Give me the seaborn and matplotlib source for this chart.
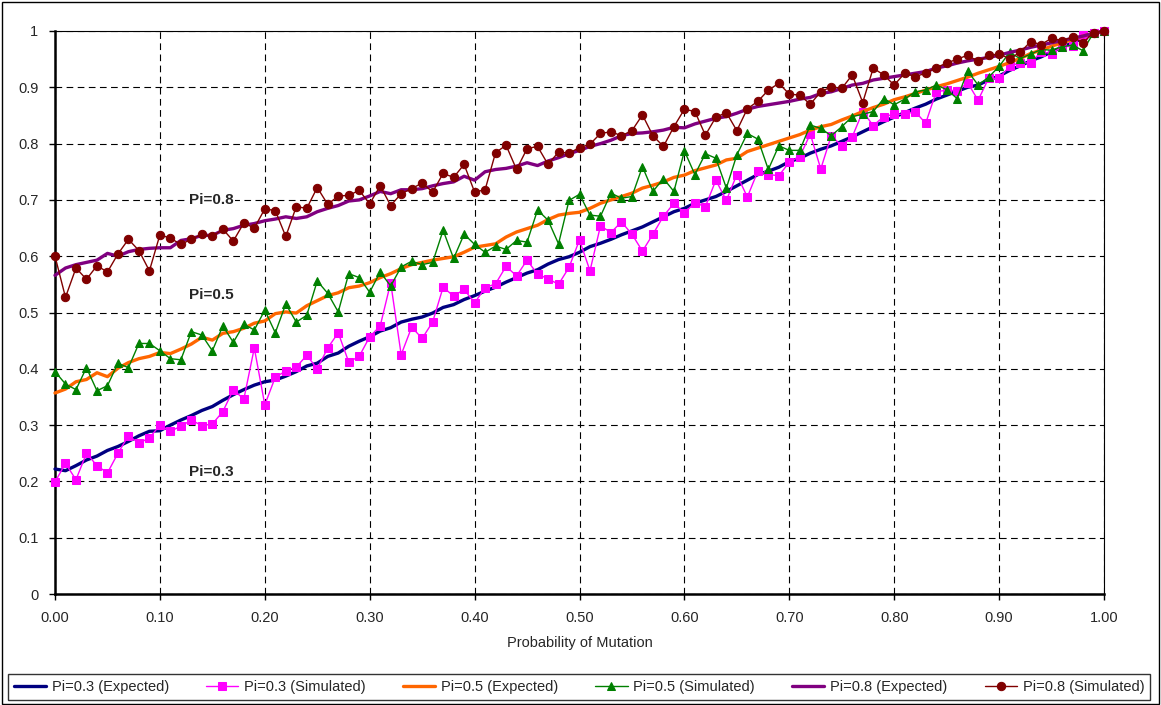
import numpy as np
import matplotlib
matplotlib.use("Agg")
import matplotlib.pyplot as plt
import seaborn as sns
from matplotlib.patches import Rectangle

# x categories: probability of mutation 0.00 .. 1.00
mutation_prob = np.round(np.arange(0, 101) * 0.01, 2)

# values
pi03_expected = [0.222, 0.219, 0.228, 0.238, 0.245, 0.255, 0.262, 0.271, 0.281, 0.289,
                 0.290, 0.300, 0.309, 0.317, 0.326, 0.333, 0.344, 0.354, 0.363, 0.371,
                 0.377, 0.380, 0.387, 0.395, 0.405, 0.410, 0.422, 0.428, 0.440, 0.449,
                 0.457, 0.467, 0.473, 0.483, 0.488, 0.492, 0.499, 0.509, 0.514, 0.523,
                 0.530, 0.538, 0.545, 0.554, 0.562, 0.570, 0.576, 0.586, 0.594, 0.599,
                 0.607, 0.617, 0.623, 0.630, 0.638, 0.645, 0.652, 0.661, 0.670, 0.679,
                 0.685, 0.694, 0.700, 0.706, 0.715, 0.725, 0.735, 0.745, 0.751, 0.758,
                 0.768, 0.774, 0.783, 0.790, 0.796, 0.804, 0.812, 0.821, 0.830, 0.839,
                 0.847, 0.855, 0.863, 0.870, 0.879, 0.886, 0.893, 0.900, 0.904, 0.913,
                 0.920, 0.930, 0.938, 0.947, 0.954, 0.963, 0.971, 0.979, 0.987, 0.995,
                 1.000]
pi03_simulated = [0.199, 0.232, 0.203, 0.250, 0.228, 0.215, 0.250, 0.281, 0.268, 0.277,
                  0.300, 0.289, 0.298, 0.309, 0.299, 0.302, 0.324, 0.363, 0.346, 0.437,
                  0.336, 0.385, 0.396, 0.403, 0.424, 0.400, 0.437, 0.464, 0.412, 0.422,
                  0.457, 0.476, 0.553, 0.425, 0.474, 0.454, 0.483, 0.545, 0.529, 0.541,
                  0.517, 0.544, 0.551, 0.582, 0.565, 0.593, 0.568, 0.560, 0.550, 0.580,
                  0.629, 0.574, 0.654, 0.642, 0.661, 0.639, 0.609, 0.639, 0.671, 0.694,
                  0.677, 0.695, 0.688, 0.735, 0.699, 0.745, 0.705, 0.751, 0.745, 0.743,
                  0.767, 0.777, 0.817, 0.755, 0.814, 0.796, 0.812, 0.857, 0.832, 0.848,
                  0.852, 0.852, 0.857, 0.836, 0.892, 0.895, 0.894, 0.908, 0.877, 0.916,
                  0.916, 0.937, 0.944, 0.943, 0.963, 0.960, 0.972, 0.973, 0.993, 0.997,
                  1.000]
pi05_expected = [0.357, 0.364, 0.377, 0.381, 0.393, 0.386, 0.401, 0.411, 0.418, 0.422,
                 0.429, 0.427, 0.435, 0.444, 0.456, 0.451, 0.463, 0.466, 0.472, 0.481,
                 0.485, 0.498, 0.501, 0.499, 0.512, 0.521, 0.530, 0.535, 0.544, 0.547,
                 0.553, 0.562, 0.569, 0.578, 0.585, 0.589, 0.593, 0.596, 0.599, 0.607,
                 0.616, 0.619, 0.622, 0.634, 0.643, 0.649, 0.655, 0.665, 0.673, 0.676,
                 0.678, 0.685, 0.694, 0.700, 0.706, 0.712, 0.721, 0.726, 0.732, 0.740,
                 0.744, 0.752, 0.757, 0.762, 0.771, 0.774, 0.786, 0.792, 0.798, 0.804,
                 0.810, 0.816, 0.824, 0.830, 0.834, 0.842, 0.849, 0.857, 0.864, 0.870,
                 0.878, 0.883, 0.889, 0.895, 0.901, 0.906, 0.912, 0.918, 0.925, 0.931,
                 0.937, 0.944, 0.951, 0.960, 0.966, 0.973, 0.979, 0.985, 0.991, 0.996,
                 1.000]
pi05_simulated = [0.395, 0.373, 0.363, 0.402, 0.361, 0.370, 0.410, 0.402, 0.445, 0.445,
                  0.432, 0.418, 0.416, 0.466, 0.460, 0.432, 0.476, 0.447, 0.479, 0.469,
                  0.504, 0.464, 0.515, 0.483, 0.495, 0.556, 0.534, 0.501, 0.569, 0.562,
                  0.536, 0.572, 0.547, 0.581, 0.591, 0.585, 0.589, 0.646, 0.596, 0.639,
                  0.621, 0.607, 0.618, 0.612, 0.628, 0.625, 0.682, 0.664, 0.622, 0.699,
                  0.710, 0.673, 0.671, 0.712, 0.703, 0.706, 0.759, 0.715, 0.738, 0.715,
                  0.787, 0.745, 0.782, 0.774, 0.721, 0.780, 0.818, 0.808, 0.754, 0.796,
                  0.788, 0.788, 0.833, 0.827, 0.814, 0.830, 0.848, 0.852, 0.857, 0.880,
                  0.869, 0.879, 0.892, 0.895, 0.904, 0.896, 0.880, 0.929, 0.904, 0.918,
                  0.937, 0.962, 0.951, 0.959, 0.967, 0.966, 0.972, 0.975, 0.965, 0.997,
                  1.000]
pi08_expected = [0.566, 0.579, 0.585, 0.589, 0.593, 0.605, 0.600, 0.608, 0.612, 0.614,
                 0.615, 0.615, 0.628, 0.631, 0.637, 0.637, 0.646, 0.649, 0.655, 0.658,
                 0.663, 0.666, 0.670, 0.667, 0.670, 0.679, 0.685, 0.690, 0.698, 0.700,
                 0.707, 0.715, 0.711, 0.718, 0.718, 0.720, 0.725, 0.729, 0.732, 0.742,
                 0.735, 0.750, 0.754, 0.756, 0.760, 0.766, 0.761, 0.769, 0.775, 0.782,
                 0.788, 0.795, 0.800, 0.806, 0.814, 0.818, 0.819, 0.821, 0.824, 0.829,
                 0.828, 0.835, 0.840, 0.845, 0.848, 0.854, 0.861, 0.866, 0.869, 0.872,
                 0.875, 0.879, 0.882, 0.889, 0.892, 0.898, 0.904, 0.907, 0.913, 0.916,
                 0.919, 0.922, 0.925, 0.928, 0.934, 0.938, 0.943, 0.947, 0.950, 0.953,
                 0.957, 0.962, 0.966, 0.971, 0.975, 0.979, 0.983, 0.987, 0.991, 0.996,
                 1.000]
pi08_simulated = [0.600, 0.527, 0.579, 0.559, 0.583, 0.572, 0.604, 0.630, 0.610, 0.574,
                  0.638, 0.632, 0.621, 0.630, 0.639, 0.635, 0.648, 0.627, 0.659, 0.650,
                  0.684, 0.681, 0.635, 0.688, 0.685, 0.722, 0.692, 0.707, 0.708, 0.717,
                  0.693, 0.725, 0.690, 0.711, 0.720, 0.730, 0.714, 0.747, 0.740, 0.763,
                  0.714, 0.718, 0.784, 0.797, 0.754, 0.791, 0.795, 0.763, 0.785, 0.783,
                  0.793, 0.799, 0.818, 0.821, 0.814, 0.823, 0.851, 0.814, 0.795, 0.830,
                  0.861, 0.857, 0.815, 0.847, 0.855, 0.823, 0.862, 0.875, 0.895, 0.907,
                  0.888, 0.886, 0.870, 0.892, 0.901, 0.898, 0.922, 0.873, 0.934, 0.922,
                  0.904, 0.925, 0.919, 0.925, 0.935, 0.943, 0.950, 0.957, 0.946, 0.957,
                  0.959, 0.951, 0.962, 0.981, 0.976, 0.987, 0.983, 0.989, 0.979, 0.997,
                  1.000]

series_labels = ["Pi=0.3 (Expected)", "Pi=0.3 (Simulated)", "Pi=0.5 (Expected)",
                 "Pi=0.5 (Simulated)", "Pi=0.8 (Expected)", "Pi=0.8 (Simulated)"]
series_values = [pi03_expected, pi03_simulated, pi05_expected,
                 pi05_simulated, pi08_expected, pi08_simulated]

# style per series: colour, marker, line width, marker size
styles = [("#000080", None, 2.4, 0),
          ("#FF00FF", "s", 1.0, 5.8),
          ("#FF6600", None, 2.4, 0),
          ("#008000", "^", 1.0, 6.2),
          ("#800080", None, 2.4, 0),
          ("#800000", "o", 1.0, 6.0)]

sns.set_theme(style="white")
plt.rcParams['font.family'] = ['Liberation Sans', 'DejaVu Sans']

fig = plt.figure(figsize=(11.61, 7.05), dpi=100)
ax = fig.add_axes([55 / 1161, 1 - 594 / 705, 1049 / 1161, 563 / 705])

for label, vals, (col, mk, lw, ms) in zip(series_labels, series_values, styles):
    kw = dict(color=col, lw=lw, label=label, clip_on=False, zorder=3)
    if mk:
        kw.update(marker=mk, markersize=ms, markeredgecolor=col, markerfacecolor=col)
    sns.lineplot(x=mutation_prob, y=vals, ax=ax, **kw)

if ax.get_legend() is not None:
    ax.get_legend().remove()

# annotations next to the curves (white box hides the gridline behind)
for yv, txt in [(0.70, "Pi=0.8"), (0.531, "Pi=0.5"), (0.217, "Pi=0.3")]:
    ax.text(0.128, yv, txt, fontsize=11, fontweight="bold", va="center", zorder=4,
            bbox=dict(facecolor="white", edgecolor="none", pad=1.0))

ax.set_xlim(0, 1)
ax.set_ylim(0, 1)
xt = np.round(np.arange(0, 11) * 0.1, 2)
ax.set_xticks(xt)
ax.set_xticklabels([f"{v:.2f}" for v in xt])
ax.set_yticks(xt)
ax.set_yticklabels(["0" if v == 0 else "1" if v == 1 else f"{v:.1f}" for v in xt])
ax.tick_params(direction="out", length=4, width=1, color="black", labelsize=10.5,
               bottom=True, left=True, pad=8)
ax.set_xlabel("Probability of Mutation", fontsize=10.5, labelpad=8)
ax.set_ylabel("")

ax.grid(True, linestyle=(0, (6, 4)), color="black", lw=0.8)
ax.set_axisbelow(True)
for side in ["left", "bottom"]:
    ax.spines[side].set_color("black")
    ax.spines[side].set_linewidth(1.8)
for side in ["top", "right"]:
    ax.spines[side].set_color("black")
    ax.spines[side].set_linewidth(0.8)

handles, labels = ax.get_legend_handles_labels()
leg = fig.legend(handles, labels, loc="lower left", ncol=6, mode="expand",
                 bbox_to_anchor=(8 / 1161, 5 / 705, 1142 / 1161, 32 / 705),
                 borderaxespad=0, fontsize=10.5, frameon=True, fancybox=False,
                 handlelength=2.2, handletextpad=0.4)
leg.get_frame().set_edgecolor("black")
leg.get_frame().set_linewidth(1.0)

# outer chart border
fig.patches.append(Rectangle((0.002, 0.002), 0.996, 0.995, transform=fig.transFigure,
                             fill=False, edgecolor="black", lw=1.0))

fig.savefig("out.png", dpi=100)
